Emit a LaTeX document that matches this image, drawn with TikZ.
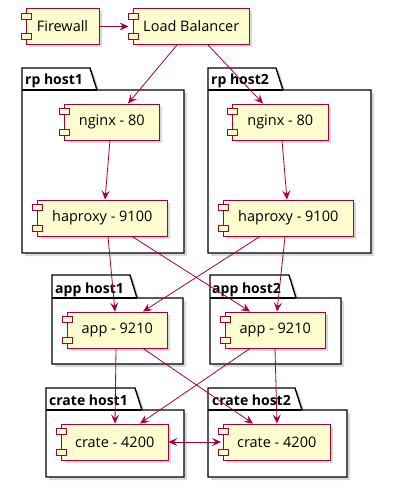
\documentclass[tikz,border=0pt]{standalone}
\usepackage{fontspec}
\setmainfont{Open Sans}
\usetikzlibrary{arrows.meta,shadows}
\definecolor{cborder}{HTML}{A80036}
\definecolor{cfill}{HTML}{FEFECE}
\newcommand\compnode[5]{%
  \node[comp,minimum width=#4pt] (#1) at (#2,#3) {#5};
  \draw[ctab] ([shift={(-4.5,5)}]#1.north west) rectangle ++(10,6);
  \draw[ctab] ([shift={(-4.5,-11)}]#1.south west) rectangle ++(10,6);}
\newcommand\pkgdraw[6]{%
  \path[pkg] (#1,#3) -- (#6-7,#3) -- (#6,#4) -- (#2,#4) -- (#2,#5) -- (#1,#5) -- cycle;
  \draw[pkgline] (#1,#4) -- (#6,#4);}
\begin{document}
\begin{tikzpicture}[x=1pt,y=-1pt,
  comp/.style={draw=cborder,fill=cfill,line width=0.9pt,minimum height=36pt,inner sep=0pt,
    font=\fontsize{14.5}{16}\selectfont,
    drop shadow={shadow xshift=3pt,shadow yshift=-3pt,opacity=0.3}},
  ctab/.style={draw=cborder,fill=cfill,line width=0.9pt},
  pkg/.style={draw=black,fill=white,line width=1.4pt,
    drop shadow={shadow xshift=3pt,shadow yshift=-3pt,opacity=0.3}},
  pkgline/.style={draw=black,line width=1.4pt},
  pkglabel/.style={font=\bfseries\fontsize{14}{16}\selectfont,anchor=base west,inner sep=0pt},
  conn/.style={draw=cborder,line width=0.8pt,-{Stealth[length=9pt,width=8pt,inset=3.5pt]}},
  conn2/.style={draw=cborder,line width=0.8pt,{Stealth[length=9pt,width=8pt,inset=3.5pt]}-{Stealth[length=9pt,width=8pt,inset=3.5pt]}}
]
\useasboundingbox (0,0) rectangle (404,502);
% packages
\pkgdraw{22}{184}{68}{90}{253}{97}
\node[pkglabel] (lrp1) at (25,85) {rp host1};
\pkgdraw{208}{371}{68}{90}{253}{283}
\node[pkglabel] (lrp2) at (211,85) {rp host2};
\pkgdraw{52}{183}{275}{298}{364}{137}
\node[pkglabel] (lapp1) at (55,293) {app host1};
\pkgdraw{210}{341}{275}{298}{364}{296}
\node[pkglabel] (lapp2) at (212,293) {app host2};
\pkgdraw{46}{184}{388}{410}{477}{142}
\node[pkglabel] (lcr1) at (49,405) {crate host1};
\pkgdraw{208}{347}{388}{410}{477}{302}
\node[pkglabel] (lcr2) at (212,405) {crate host2};
% components
\compnode{fw}{62.5}{26.5}{73}{Firewall}
\compnode{lb}{191.25}{26.5}{115.5}{Load Balancer}
\compnode{ng1}{111.75}{122}{94.5}{nginx - 80}
\compnode{ng2}{280.25}{122}{95.5}{nginx - 80}
\compnode{hp1}{102.25}{218}{129.5}{haproxy - 9100}
\compnode{hp2}{288.25}{218}{129.5}{haproxy - 9100}
\compnode{ap1}{117.25}{330}{99.5}{app - 9210}
\compnode{ap2}{275.25}{330}{99.5}{app - 9210}
\compnode{cr1}{114.75}{442}{106.5}{crate - 4200}
\compnode{cr2}{276.75}{442}{106.5}{crate - 4200}
% connectors
\draw[conn,shorten >=4.5pt] (fw.east) -- (lb.west);
\draw[conn] ([xshift=-14.25pt]lb.south) -- ([xshift=16.25pt]ng1.north);
\draw[conn] ([xshift=16.75pt]lb.south) -- ([xshift=-17.25pt]ng2.north);
\draw[conn] ([xshift=-1.75pt]ng1.south) -- ([xshift=2.75pt]hp1.north);
\draw[conn] ([xshift=1.75pt]ng2.south) -- ([xshift=-1.25pt]hp2.north);
\draw[conn] ([xshift=5.75pt]hp1.south) -- ([xshift=-2.25pt]ap1.north);
\draw[conn] ([xshift=29.75pt]hp1.south) -- ([xshift=-25.25pt]ap2.north);
\draw[conn] ([xshift=-28.25pt]hp2.south) -- ([xshift=25.75pt]ap1.north);
\draw[conn] ([xshift=-3.25pt]hp2.south) -- ([xshift=1.75pt]ap2.north);
\draw[conn] ([xshift=-1.25pt]ap1.south) -- ([xshift=0.25pt]cr1.north);
\draw[conn] ([xshift=25.75pt]ap1.south) -- ([xshift=-23.75pt]cr2.north);
\draw[conn] ([xshift=-25.25pt]ap2.south) -- ([xshift=25.25pt]cr1.north);
\draw[conn] ([xshift=-0.25pt]ap2.south) -- ([xshift=0.25pt]cr2.north);
\draw[conn2,shorten >=2pt] (cr1.east) -- (cr2.west);
\end{tikzpicture}
\end{document}
